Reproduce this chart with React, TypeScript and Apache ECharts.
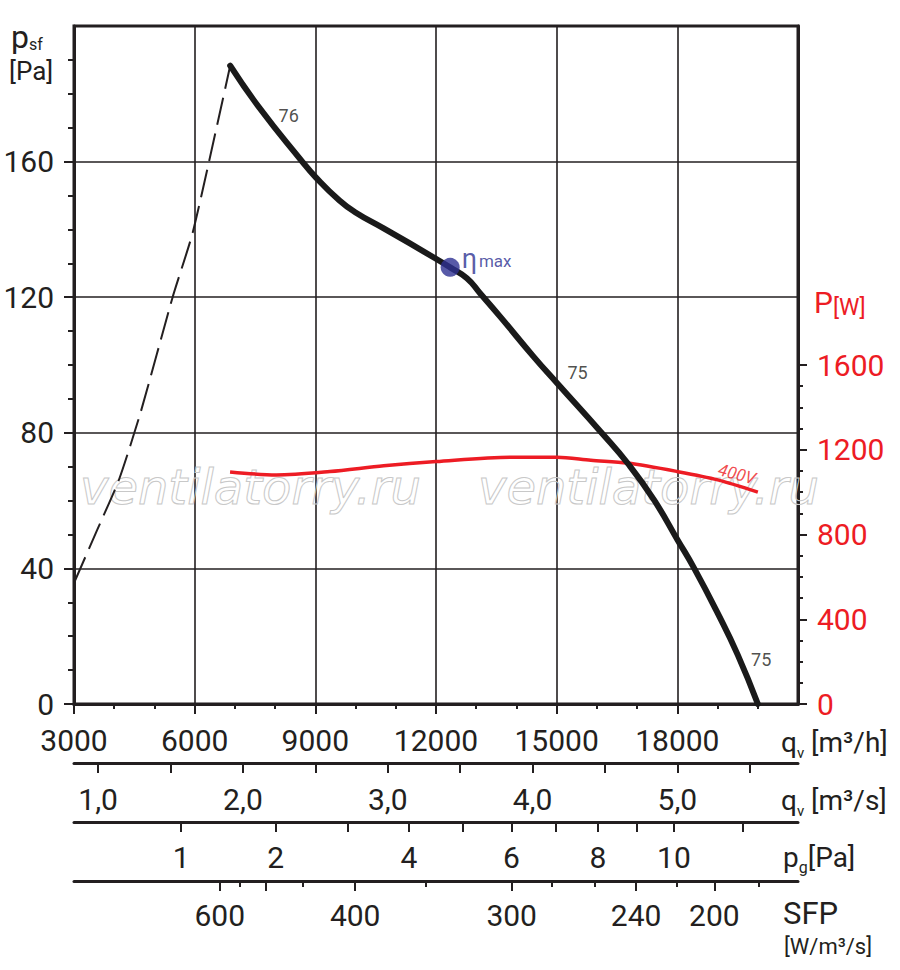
import React, { useEffect, useRef } from "react";
import * as echarts from "echarts";

// ---- data ----
const flowLabels = [3000, 6000, 9000, 12000, 15000, 18000]; // m3/h labelled ticks
const flowMajorTicks = [3000, 6000, 9000, 12000, 15000, 18000];
const flowMinorTicks = [4000, 5000, 7000, 8000, 10000, 11000, 13000, 14000, 16000, 17000, 19000, 20000];

const pressureLabels = [0, 40, 80, 120, 160];
const pressureMinorTicks = [10, 20, 30, 50, 60, 70, 90, 100, 110, 130, 140, 150, 170, 180, 190];

const powerLabels = [0, 400, 800, 1200, 1600];
const powerMinorTicks = [100, 200, 300, 500, 600, 700, 900, 1000, 1100, 1300, 1400, 1500];

const flowM3sTicks = [1.0, 1.5, 2.0, 2.5, 3.0, 3.5, 4.0, 4.5, 5.0, 5.5];
const flowM3sLabels = [1, 2, 3, 4, 5];

const PG_K = 5665; // q [m3/h] at pg = 1 Pa (pg ∝ q²)
const pgTicks = [1, 2, 3, 4, 5, 6, 7, 8, 9, 10, 12];
const pgLabels = [1, 2, 4, 6, 8, 10];

const sfpMajor = [600, 500, 400, 300, 240, 200];
const sfpMajorQ = [6624, 7756, 9991, 13882, 16974, 18920];
const sfpMinor = [550, 450, 350, 280, 260, 220, 180];
const sfpMinorQ = [7115, 8679, 11747, 14888, 15944, 17996, 20017];
const sfpLabels = [600, 400, 300, 240, 200];

// pressure curve p_sf [Pa] vs q [m3/h]
const pressureCurve = [
  [6883, 188.3], [7614, 175.8], [8654, 160.3], [9000, 155.5], [9600, 148.5], [10000, 145],
  [10700, 140.3], [11978, 131.5], [12352, 128.8], [12768, 125.6], [13100, 121.1], [13600, 114.2],
  [14430, 102.4], [15013, 94.6], [16094, 80.3], [16800, 70.5], [17420, 60.2], [18006, 48.4],
  [18420, 40], [19003, 26.8], [19502, 14.5], [20002, 0],
];
// unstable (dashed) region
const stallCurve = [
  [3000, 35.7], [3582, 51.5], [4122, 66.3], [4663, 86.3], [5452, 120], [5950, 139],
  [6574, 171.6], [6883, 188.3],
];
// power P [W] vs q [m3/h]
const powerCurve = [
  [6880, 1095], [8030, 1081], [9360, 1097], [10700, 1124], [12004, 1144], [13850, 1165],
  [15013, 1165], [15850, 1150], [16759, 1137], [18006, 1097], [19003, 1058], [20002, 1000],
];
const etaMax = [12352, 128.8];
const curveNotes = [
  { value: [8337, 173.7], name: "76" },
  { value: [15520, 97.9], name: "75" },
  { value: [20084, 13], name: "75" },
];
const powerNotes = [{ value: [19485, 1086], name: "400V" }];

const INK = "#231f20";
const RED = "#ed1c24";
const BLUE = "#2e3192";
const FONT = "Roboto";

export default function App() {
  const ref = useRef<HTMLDivElement>(null);

  useEffect(() => {
    if (!ref.current) return;
    const chart = echarts.init(ref.current, undefined, { renderer: "svg" });

    const baseX = {
      type: "value",
      min: 3000,
      max: 21000,
      position: "bottom",
      splitLine: { show: false },
    };
    const tickStyle = { color: INK, width: 2 };
    const labelStyle = { fontSize: 30, color: INK, fontFamily: FONT };

    const watermark = (x: number) => ({
      type: "text",
      x,
      y: 487,
      z: 1,
      silent: true,
      style: {
        text: "ventilatorry.ru",
        fontSize: 48,
        fontStyle: "italic",
        fontFamily: "DejaVu Sans",
        fill: "rgba(0,0,0,0)",
        stroke: "#c8c8c8",
        lineWidth: 1,
        verticalAlign: "middle",
      },
    });

    const unitLabel = (x: number, y: number, text: string, subSize: number) => ({
      type: "text",
      x,
      y,
      z: 10,
      style: {
        text,
        verticalAlign: "middle",
        rich: {
          a: { fontSize: 28, fontFamily: FONT, fill: INK, lineHeight: 36 },
          s: { fontSize: subSize, fontFamily: FONT, fill: INK, verticalAlign: "bottom", lineHeight: 36 },
        },
      },
    });

    const option: any = {
      animation: false,
      textStyle: { fontFamily: FONT },
      grid: {
        left: 74,
        right: 102,
        top: 26,
        bottom: 266,
        show: true,
        borderColor: INK,
        borderWidth: 3,
        outerBoundsMode: "none",
      },
      xAxis: [
        {
          ...baseX,
          interval: 3000,
          axisLine: { show: true, onZero: false, lineStyle: { color: INK, width: 3 } },
          axisTick: { show: true, length: 10, customValues: flowMajorTicks, lineStyle: tickStyle },
          splitLine: { show: true, lineStyle: { color: INK, width: 1.6 } },
          axisLabel: {
            ...labelStyle,
            customValues: flowLabels,
            margin: 21,
            formatter: (v: number) => String(v),
          },
        },
        {
          ...baseX,
          axisLine: { show: false, onZero: false },
          axisTick: { show: true, length: 5, customValues: flowMinorTicks, lineStyle: tickStyle },
          axisLabel: { show: false },
        },
        {
          ...baseX,
          offset: 59,
          axisLine: { show: true, onZero: false, lineStyle: { color: INK, width: 3 } },
          axisTick: { show: true, length: 10, customValues: flowM3sTicks.map((v) => v * 3600), lineStyle: tickStyle },
          axisLabel: {
            ...labelStyle,
            customValues: flowM3sLabels.map((v) => v * 3600),
            margin: 21,
            formatter: (v: number) => (v / 3600).toFixed(1).replace(".", ","),
          },
        },
        {
          ...baseX,
          offset: 118,
          axisLine: { show: true, onZero: false, lineStyle: { color: INK, width: 3 } },
          axisTick: { show: true, length: 10, customValues: pgTicks.map((p) => PG_K * Math.sqrt(p)), lineStyle: tickStyle },
          axisLabel: {
            ...labelStyle,
            customValues: pgLabels.map((p) => PG_K * Math.sqrt(p)),
            margin: 20,
            formatter: (v: number) => String(Math.round((v / PG_K) * (v / PG_K))),
          },
        },
        {
          ...baseX,
          offset: 177,
          axisLine: { show: true, onZero: false, lineStyle: { color: INK, width: 3 } },
          axisTick: { show: true, length: 10, customValues: sfpMajorQ, lineStyle: tickStyle },
          axisLabel: {
            ...labelStyle,
            customValues: sfpLabels.map((s) => sfpMajorQ[sfpMajor.indexOf(s)]),
            margin: 19,
            formatter: (v: number) => {
              const i = sfpMajorQ.indexOf(v);
              return i >= 0 ? String(sfpMajor[i]) : "";
            },
          },
        },
        {
          ...baseX,
          offset: 177,
          axisLine: { show: false, onZero: false },
          axisTick: { show: true, length: 6, customValues: sfpMinorQ, lineStyle: tickStyle },
          axisLabel: { show: false },
        },
      ],
      yAxis: [
        {
          type: "value",
          min: 0,
          max: 200,
          interval: 40,
          position: "left",
          axisLine: { show: true, onZero: false, lineStyle: { color: INK, width: 3 } },
          axisTick: { show: true, length: 10, customValues: pressureLabels, lineStyle: tickStyle },
          splitLine: { show: true, lineStyle: { color: INK, width: 1.6 } },
          axisLabel: {
            ...labelStyle,
            customValues: pressureLabels,
            margin: 20,
            formatter: (v: number) => String(v),
          },
        },
        {
          type: "value",
          min: 0,
          max: 200,
          position: "left",
          axisLine: { show: false, onZero: false },
          axisTick: { show: true, length: 6, customValues: pressureMinorTicks, lineStyle: tickStyle },
          splitLine: { show: false },
          axisLabel: { show: false },
        },
        {
          type: "value",
          min: 0,
          max: 3200,
          interval: 400,
          position: "right",
          axisLine: { show: true, onZero: false, lineStyle: { color: INK, width: 3 } },
          axisTick: { show: true, length: 9, customValues: powerLabels, lineStyle: tickStyle },
          splitLine: { show: false },
          axisLabel: {
            fontSize: 30,
            color: RED,
            fontFamily: FONT,
            customValues: powerLabels,
            margin: 19,
            formatter: (v: number) => String(v),
          },
        },
        {
          type: "value",
          min: 0,
          max: 3200,
          position: "right",
          axisLine: { show: false, onZero: false },
          axisTick: { show: true, length: 5, customValues: powerMinorTicks, lineStyle: tickStyle },
          splitLine: { show: false },
          axisLabel: { show: false },
        },
      ],
      series: [
        {
          type: "line",
          xAxisIndex: 0,
          yAxisIndex: 0,
          data: stallCurve,
          smooth: 0.2,
          symbol: "none",
          silent: true,
          lineStyle: { color: INK, width: 2, type: [28, 9] },
          z: 3,
        },
        {
          type: "line",
          xAxisIndex: 0,
          yAxisIndex: 2,
          data: powerCurve,
          smooth: 0.3,
          symbol: "none",
          silent: true,
          lineStyle: { color: RED, width: 3.5 },
          z: 4,
        },
        {
          type: "line",
          xAxisIndex: 0,
          yAxisIndex: 0,
          data: pressureCurve,
          smooth: 0.5,
          symbol: "none",
          silent: true,
          lineStyle: { color: "#1a1a1a", width: 6, cap: "round" },
          z: 5,
        },
        {
          type: "scatter",
          xAxisIndex: 0,
          yAxisIndex: 0,
          data: [etaMax],
          symbolSize: 19,
          silent: true,
          itemStyle: { color: BLUE },
          label: {
            show: true,
            position: "right",
            distance: 2,
            offset: [0, -9],
            formatter: "{e|η}{m|max}",
            rich: {
              e: { fontSize: 27, color: BLUE, fontFamily: FONT, lineHeight: 28, verticalAlign: "bottom" },
              m: { fontSize: 17, color: BLUE, fontFamily: FONT, lineHeight: 28, verticalAlign: "bottom", padding: [0, 0, 3, 2] },
            },
          },
          z: 8,
        },
        {
          type: "scatter",
          xAxisIndex: 0,
          yAxisIndex: 0,
          data: curveNotes,
          symbolSize: 1,
          silent: true,
          itemStyle: { color: "rgba(0,0,0,0)" },
          label: {
            show: true,
            position: "inside",
            formatter: "{b}",
            fontSize: 18,
            color: INK,
            fontFamily: FONT,
          },
          z: 8,
        },
        {
          type: "scatter",
          xAxisIndex: 0,
          yAxisIndex: 2,
          data: powerNotes,
          symbolSize: 1,
          silent: true,
          itemStyle: { color: "rgba(0,0,0,0)" },
          label: {
            show: true,
            position: "inside",
            formatter: "{b}",
            fontSize: 17,
            fontStyle: "italic",
            rotate: -15,
            color: RED,
            fontFamily: FONT,
          },
          z: 8,
        },
      ],
      graphic: [
        watermark(80),
        watermark(478),
        {
          type: "text",
          x: 11,
          y: 37,
          z: 10,
          style: {
            text: "{a|p}{s|sf}",
            verticalAlign: "middle",
            rich: {
              a: { fontSize: 32, fontFamily: FONT, fill: INK, lineHeight: 30 },
              s: { fontSize: 16, fontFamily: FONT, fill: INK, verticalAlign: "bottom", lineHeight: 30 },
            },
          },
        },
        {
          type: "text",
          x: 9,
          y: 71,
          z: 10,
          style: { text: "[Pa]", fontSize: 26, fontFamily: FONT, fill: INK, verticalAlign: "middle" },
        },
        {
          type: "text",
          x: 814,
          y: 302,
          z: 10,
          style: {
            text: "{a|P}{b|[W]}",
            verticalAlign: "middle",
            rich: {
              a: { fontSize: 30, fontFamily: FONT, fill: RED, lineHeight: 34 },
              b: { fontSize: 23, fontFamily: FONT, fill: RED, lineHeight: 34, verticalAlign: "bottom" },
            },
          },
        },
        unitLabel(781, 742, "{a|q}{s|v}{a| [m³/h]}", 15),
        unitLabel(781, 800, "{a|q}{s|v}{a| [m³/s]}", 15),
        unitLabel(783, 857, "{a|p}{s|g}{a|[Pa]}", 16),
        {
          type: "text",
          x: 783,
          y: 913,
          z: 10,
          style: { text: "SFP", fontSize: 31, fontFamily: FONT, fill: INK, verticalAlign: "middle" },
        },
        {
          type: "text",
          x: 784,
          y: 946,
          z: 10,
          style: { text: "[W/m³/s]", fontSize: 22, fontFamily: FONT, fill: INK, verticalAlign: "middle" },
        },
      ],
    };

    chart.setOption(option);
    return () => chart.dispose();
  }, []);

  return (
    <div
      ref={ref}
      style={{ position: "fixed", left: 0, top: 0, width: 900, height: 970, background: "#fff" }}
    />
  );
}
